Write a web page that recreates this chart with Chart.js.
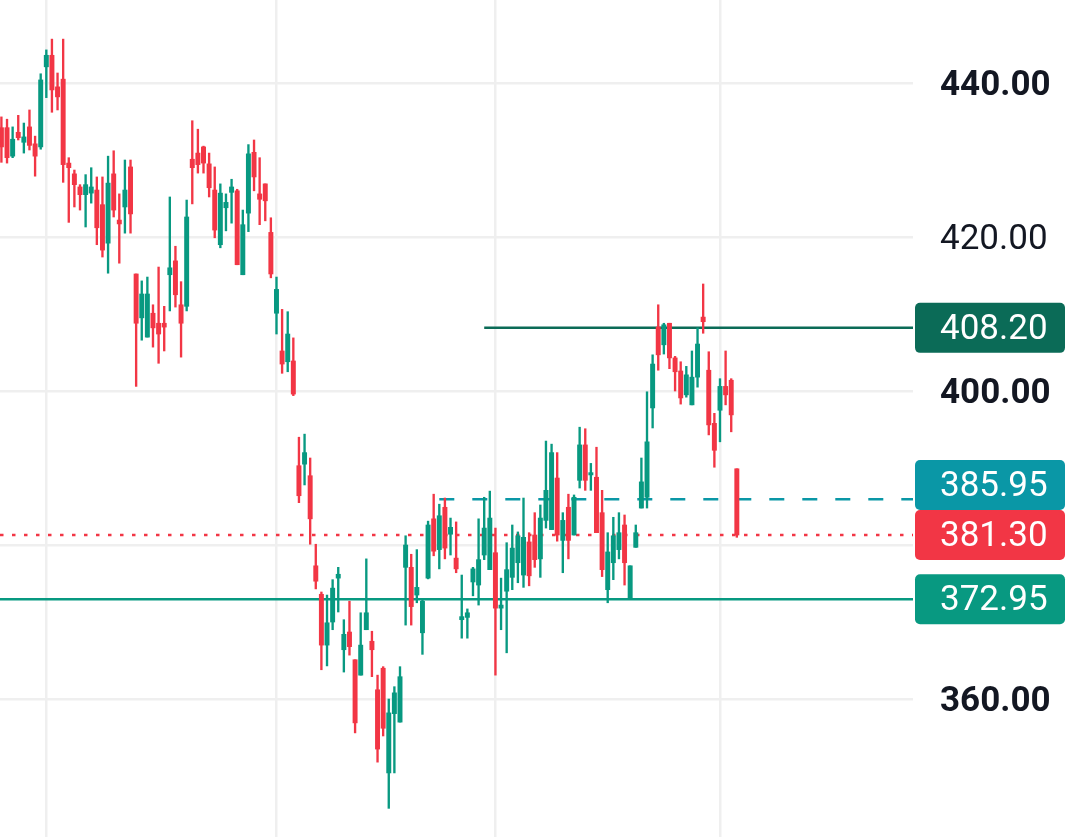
<!DOCTYPE html>
<html><head><meta charset="utf-8">
<script src="https://cdn.jsdelivr.net/npm/chart.js@4.4.1/dist/chart.umd.min.js"></script>
<style>html,body{margin:0;padding:0;background:#fff;overflow:hidden}#c{display:block}</style>
</head><body>
<canvas id="c" width="1080" height="837"></canvas>
<script>
// ---- data (candle index 0..131) ----
const opens = [434.2,434.2,430.5,433.6,432.3,434.3,432.1,431.7,442.1,443.6,
439.5,440.5,429.6,428.2,426.5,425.5,425.7,426.1,424.2,419.2,
428.2,422.2,423.9,429.1,415.2,409.5,407.0,410.1,408.8,408.8,
415.1,416.9,411.2,411.0,430.1,430.9,431.7,429.5,426.1,419.0,
423.8,425.8,426.0,415.1,423.1,431.0,425.6,426.9,420.6,410.1,
405.2,403.8,403.9,390.3,390.5,389.0,377.3,373.6,367.0,370.0,
375.7,366.4,368.7,365.1,363.1,369.0,367.5,361.2,364.0,350.4,
358.1,357.0,377.1,377.1,373.5,368.6,375.7,383.4,379.4,384.9,
381.4,378.3,370.3,370.6,375.2,374.8,378.7,376.8,379.0,371.8,
374.0,375.8,377.7,376.1,380.4,381.3,378.2,383.2,382.0,388.7,
380.6,384.9,381.3,388.4,393.0,389.1,388.8,384.2,374.2,377.7,
379.4,382.6,373.1,379.7,384.8,386.2,397.8,408.3,406.0,408.8,
404.3,402.6,399.5,398.2,401.8,409.6,402.7,395.8,397.5,400.6,
401.4,389.9];
const highs = [435.6,435.3,434.3,435.8,434.8,436.5,433.1,441.2,444.3,445.7,
441.3,445.7,430.3,428.7,426.8,428.1,429.0,427.8,427.8,430.5,
431.2,425.6,430.0,430.0,415.2,414.3,414.8,411.2,416.1,411.0,
425.2,418.8,414.2,424.8,435.1,434.0,431.8,430.9,429.1,426.9,
425.6,427.5,426.2,423.5,432.0,432.6,430.3,426.9,422.5,414.8,
410.6,410.3,406.9,394.0,394.4,391.3,380.1,373.9,373.5,375.5,
377.1,370.3,372.7,365.1,371.2,378.2,368.8,363.1,364.2,360.0,
361.6,364.2,381.2,378.8,379.4,372.9,383.1,386.6,385.3,386.1,
383.5,383.0,376.1,371.7,377.1,383.4,386.2,387.0,382.2,375.7,
380.3,382.6,381.7,386.1,381.6,384.2,385.2,393.5,393.1,392.0,
384.2,386.6,386.5,395.3,395.1,390.6,392.7,387.1,381.6,383.6,
384.2,383.9,377.3,382.6,391.3,399.9,404.7,411.2,408.8,408.8,
404.5,403.8,403.2,405.2,408.2,413.9,405.1,397.1,401.6,405.2,
401.6,389.9];
const lows = [429.7,429.6,430.3,432.6,430.9,431.3,427.9,431.4,438.1,436.2,
436.5,427.1,421.9,423.9,423.5,421.3,424.4,419.0,417.4,415.3,
422.6,416.6,420.5,420.5,400.6,406.6,407.0,405.7,403.6,405.2,
410.4,410.9,404.4,410.4,424.3,428.3,428.3,425.2,419.9,418.6,
420.8,421.8,416.4,415.1,420.7,426.0,421.6,422.1,414.7,407.4,
402.3,402.5,399.4,385.5,387.8,380.1,374.3,363.8,364.3,369.0,
371.3,363.5,365.7,355.6,363.1,369.0,362.9,351.8,355.2,345.8,
350.4,357.0,369.6,369.6,372.5,365.8,375.6,378.6,376.9,378.2,
378.7,376.4,367.9,367.9,373.4,372.2,378.1,376.8,363.1,369.0,
366.0,374.2,375.1,374.5,374.7,377.1,375.8,382.2,382.0,380.5,
376.4,378.2,381.3,387.4,387.1,387.1,381.6,375.9,372.5,375.5,
378.2,374.8,373.1,379.7,384.8,384.8,395.2,402.7,404.8,402.9,
400.0,398.3,399.2,398.2,400.5,407.5,394.3,390.1,393.4,398.2,
394.7,381.0];
const closes = [431.7,430.3,432.7,432.9,433.0,431.9,430.5,440.4,443.6,439.1,
438.2,429.4,429.0,426.8,425.5,426.8,426.5,421.2,418.3,427.0,
423.5,421.7,426.1,423.0,408.8,412.6,412.6,408.2,407.4,408.3,
416.0,412.5,408.8,422.6,429.0,429.4,429.6,426.4,420.9,425.7,
424.5,426.5,416.4,421.6,430.8,427.8,424.9,424.7,415.2,413.2,
403.5,407.4,399.6,386.4,392.0,383.4,375.3,367.0,369.9,374.4,
376.2,368.4,366.8,356.9,367.0,371.2,366.4,353.5,356.2,358.2,
360.8,362.9,380.0,372.0,374.5,372.7,382.6,379.2,383.8,379.6,
382.3,376.9,370.7,371.2,376.9,378.1,382.2,383.5,371.8,372.2,
376.8,379.6,381.2,381.0,376.0,378.1,383.5,387.1,392.0,381.3,
383.2,380.6,386.2,393.0,388.4,389.4,381.6,376.8,379.1,381.2,
381.6,377.7,377.3,381.6,388.2,393.4,403.5,404.7,408.6,404.3,
402.5,399.1,402.1,401.8,406.1,409.0,395.6,392.3,400.6,399.5,
396.9,381.3];
const gridIndices = [8, 49, 88, 128];          // session separators (candle index)
const tickValues = [440, 420, 400, 380, 360];
const boldTicks = [440, 400, 360];
const hiddenTicks = [380];
const levelValues = [408.20, 385.95, 381.30, 372.95];
const levelStarts = [86, 78, 0, 0];            // candle index where each level line starts
const currentLevel = 2;                         // last price label index
// ---- styles ----
const UP = '#089981', DOWN = '#f23645';
const levelColors = ['#0b6b57', '#0a97a6', '#f23645', '#089981'];
const levelDash = [[], [15, 18], [3.5, 8.5], []];
const X_MIN = -0.25, X_MAX = 162.38;
const Y_MIN = 342.08, Y_MAX = 450.78;

Chart.defaults.font.family = 'Roboto';
const idx = opens.map((_, i) => i);
const colorOf = i => closes[i] >= opens[i] ? UP : DOWN;

const datasets = [
  { type: 'bar', label: 'wick', order: 0, grouped: false, barThickness: 1.7,
    data: idx.map(i => ({ x: i, y: [lows[i], highs[i]] })),
    backgroundColor: idx.map(colorOf), borderWidth: 0 },
  { type: 'bar', label: 'body', order: 0, grouped: false, barThickness: 4.3,
    data: idx.map(i => ({ x: i, y: [opens[i], closes[i]] })),
    backgroundColor: idx.map(colorOf), borderWidth: 0 }
];
levelValues.forEach((v, k) => {
  datasets.push({ type: 'line', label: 'level' + k, order: 5,
    data: [{ x: levelStarts[k] > 0 ? levelStarts[k] : X_MIN, y: v }, { x: X_MAX, y: v }],
    borderColor: levelColors[k], borderWidth: 2.5, borderDash: levelDash[k],
    pointRadius: 0, fill: false, tension: 0 });
});

const labelBoxes = {
  id: 'labelBoxes',
  afterDraw(chart) {
    const ys = chart.scales.y, ctx = chart.ctx;
    const h = 50, w = 150, x0 = ys.left + 2;
    const c = levelValues.map(v => ys.getPixelForValue(v));
    for (let i = currentLevel - 1; i >= 0; i--) if (c[i] > c[i + 1] - h) c[i] = c[i + 1] - h;
    for (let i = currentLevel + 1; i < c.length; i++) if (c[i] < c[i - 1] + h) c[i] = c[i - 1] + h;
    const order = idx.slice(0, levelValues.length).filter(i => i !== currentLevel).concat([currentLevel]);
    ctx.save();
    order.forEach(i => {
      ctx.fillStyle = levelColors[i];
      ctx.beginPath();
      ctx.roundRect(x0, c[i] - h / 2, w, h, 5);
      ctx.fill();
      ctx.fillStyle = '#ffffff';
      ctx.font = '35px Roboto';
      ctx.textAlign = 'left';
      ctx.textBaseline = 'middle';
      ctx.fillText(levelValues[i].toFixed(2), ys.left + 27, c[i] + 2);
    });
    ctx.restore();
  }
};

new Chart(document.getElementById('c'), {
  type: 'bar',
  data: { datasets },
  plugins: [labelBoxes],
  options: {
    responsive: false, animation: false, devicePixelRatio: 1,
    layout: { padding: 0 },
    plugins: { legend: { display: false }, tooltip: { enabled: false } },
    scales: {
      x: {
        type: 'linear', min: X_MIN, max: X_MAX, offset: false,
        grid: { color: '#efefef', lineWidth: 2.5, drawTicks: false, offset: false },
        border: { display: false },
        ticks: { display: false },
        afterBuildTicks: s => { s.ticks = gridIndices.map(v => ({ value: v })); },
        afterFit: s => { s.height = 0; s.paddingLeft = 0; s.paddingRight = 0; }
      },
      y: {
        position: 'right', min: Y_MIN, max: Y_MAX,
        grid: { color: '#efefef', lineWidth: 2.5, drawTicks: false },
        border: { display: false },
        ticks: {
          padding: 27, color: '#131722', labelOffset: 3,
          font: ctx => ({ size: 35, family: 'Roboto',
            weight: ctx.tick && boldTicks.includes(ctx.tick.value) ? 'bold' : 'normal' }),
          callback: v => hiddenTicks.includes(v) ? '' : Number(v).toFixed(2)
        },
        afterBuildTicks: s => { s.ticks = tickValues.map(v => ({ value: v })); },
        afterFit: s => { s.width = 167; s.paddingTop = 0; s.paddingBottom = 0; }
      }
    }
  }
});
</script>
</body></html>
